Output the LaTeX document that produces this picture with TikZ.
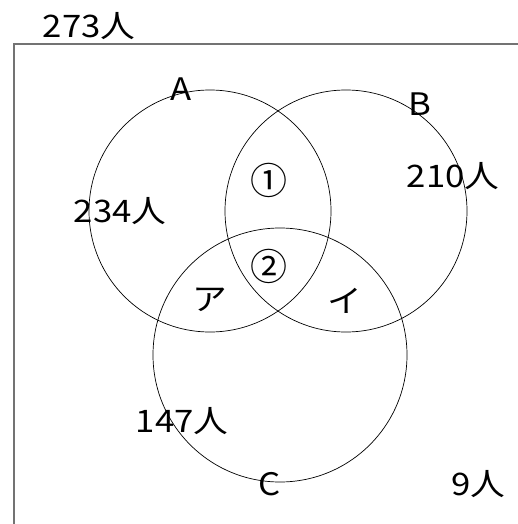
\documentclass[tikz,border=0pt]{standalone}
\usepackage{fontspec}
\newfontfamily\jp{Noto Sans CJK JP}[FakeStretch=1.12]
\newfontfamily\jpc{Noto Sans CJK JP}
\begin{document}
\begin{tikzpicture}[x=1pt,y=-1pt,
  lbl/.style={inner sep=0pt,font=\jp\fontsize{31}{31}\selectfont},
  circnum/.style={inner sep=0pt,font=\jpc\fontsize{37}{37}\selectfont},
  setc/.style={draw=black,line width=0.7pt},
  frame/.style={draw=black!55,line width=1.1pt}]
\useasboundingbox (0,0) rectangle (518,524);
\coordinate (f1) at (14,530);
\coordinate (f2) at (14,44);
\coordinate (f3) at (525,44);
\draw[frame] (f1) -- (f2) -- (f3);
\draw[setc] (210,211) circle (121pt);
\draw[setc] (346,211) circle (121pt);
\draw[setc] (280,355) circle (127pt);
\node[lbl] (tot) at (89,26) {273人};
\node[lbl] (a) at (181,89) {A};
\node[lbl] (b) at (420,104) {B};
\node[lbl] (c) at (270,484) {C};
\node[lbl] (na) at (120,211) {234人};
\node[lbl] (nb) at (453,176) {210人};
\node[lbl] (nc) at (182,421) {147人};
\node[lbl] (out) at (478,484) {9人};
\node[circnum] (r1) at (269,180) {①};
\node[circnum] (r2) at (269,266) {②};
\node[lbl] (ka) at (210,300) {ア};
\node[lbl] (ki) at (345,301) {イ};
\end{tikzpicture}
\end{document}
